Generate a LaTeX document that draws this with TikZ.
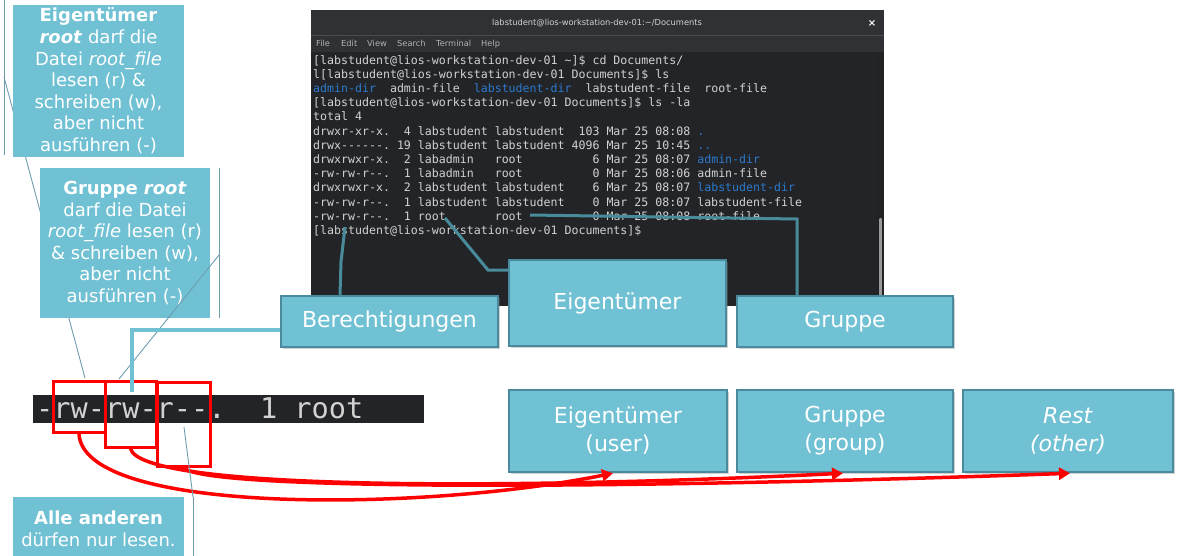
\documentclass[tikz,border=0pt]{standalone}
\usepackage{fontspec}
\setmainfont{DejaVu Sans}
\setmonofont{DejaVu Sans Mono}
\usetikzlibrary{arrows.meta,shadows}

\definecolor{boxfill}{RGB}{112,193,212}
\definecolor{boxline}{RGB}{74,138,156}
\definecolor{calloutline}{RGB}{110,158,174}
\definecolor{termbg}{RGB}{35,36,39}
\definecolor{termbar}{RGB}{47,49,52}
\definecolor{termfg}{RGB}{210,210,210}
\definecolor{termblue}{RGB}{44,122,205}
\definecolor{linkline}{RGB}{72,140,156}
\definecolor{permred}{RGB}{255,0,0}

\tikzset{
  infobox/.style={rectangle, draw=boxline, line width=2.5pt, fill=boxfill,
    text=white, align=center, inner sep=0pt,
    font=\fontsize{22}{28}\selectfont,
    drop shadow={shadow xshift=1.5pt, shadow yshift=-1.5pt, opacity=0.35}},
  calloutbox/.style={rectangle, fill=boxfill, text=white, align=center,
    inner sep=0pt, font=\fontsize{18}{21.6}\selectfont},
  termtext/.style={anchor=base west, inner sep=0pt, text=termfg,
    font=\fontsize{11.6}{14}\selectfont\ttfamily},
  menutext/.style={anchor=base west, inner sep=0pt, text=termfg!85!black,
    font=\fontsize{8.3}{10}\selectfont},
  linkpath/.style={draw=linkline, line width=3pt},
  pointerline/.style={draw=calloutline, line width=0.9pt},
  permbox/.style={rectangle, draw=permred, line width=3pt, inner sep=0pt},
  permarrow/.style={draw=permred, line width=3.5pt,
    -{Triangle[length=11pt,width=12pt]}},
}

\begin{document}
\begin{tikzpicture}[x=1pt,y=-1pt]
\clip (0,0) rectangle (1180,555);
\fill[white] (0,0) rectangle (1180,555);

% ---------------- terminal window ----------------
\fill[termbg] (311,10) rectangle (884,306);
\fill[termbar] (311,10) rectangle (884,52);
\draw[black!70, line width=0.8pt] (311,35) -- (884,35);
\fill[termbar!70!black] (877,52) rectangle (884,306);
\draw[gray!80, line width=2.5pt, line cap=round] (880.5,219) -- (880.5,306);

\node[anchor=base, inner sep=0pt, text=termfg, font=\fontsize{8.3}{10}\selectfont]
  (title) at (597,25) {labstudent@lios-workstation-dev-01:\textasciitilde/Documents};
\node[anchor=base, inner sep=0pt, text=white, font=\fontsize{10}{10}\selectfont\bfseries]
  (closebtn) at (872,26) {×};
\node[menutext] (mfile) at (316,46) {File};
\node[menutext] (medit) at (341,46) {Edit};
\node[menutext] (mview) at (367,46) {View};
\node[menutext] (msearch) at (397,46) {Search};
\node[menutext] (mterm) at (436,46) {Terminal};
\node[menutext] (mhelp) at (481,46) {Help};

\node[termtext] (t1) at (313,64.0) {[labstudent@lios-workstation-dev-01~\textasciitilde]\$~cd~Documents/};
\node[termtext] (t2) at (313,78.2) {l[labstudent@lios-workstation-dev-01~Documents]\$~ls};
\node[termtext] (t3) at (313,92.4) {{\color{termblue}admin-dir}~~admin-file~~{\color{termblue}labstudent-dir}~~labstudent-file~~root-file};
\node[termtext] (t4) at (313,106.6) {[labstudent@lios-workstation-dev-01~Documents]\$~ls~-la};
\node[termtext] (t5) at (313,120.8) {total~4};
\node[termtext] (t6) at (313,135.0) {drwxr-xr-x.~~4~labstudent~labstudent~~103~Mar~25~08:08~{\color{termblue}.}};
\node[termtext] (t7) at (313,149.2) {drwx-{}-{}-{}-{}-{}-.~19~labstudent~labstudent~4096~Mar~25~10:45~{\color{termblue}..}};
\node[termtext] (t8) at (313,163.4) {drwxrwxr-x.~~2~labadmin~~~root~~~~~~~~~~6~Mar~25~08:07~{\color{termblue}admin-dir}};
\node[termtext] (t9) at (313,177.6) {-rw-rw-r-{}-.~~1~labadmin~~~root~~~~~~~~~~0~Mar~25~08:06~admin-file};
\node[termtext] (t10) at (313,191.8) {drwxrwxr-x.~~2~labstudent~labstudent~~~~6~Mar~25~08:07~{\color{termblue}labstudent-dir}};
\node[termtext] (t11) at (313,206.0) {-rw-rw-r-{}-.~~1~labstudent~labstudent~~~~0~Mar~25~08:07~labstudent-file};
\node[termtext] (t12) at (313,220.2) {-rw-rw-r-{}-.~~1~root~~~~~~~root~~~~~~~~~~0~Mar~25~08:08~root-file};
\node[termtext] (t13) at (313,234.4) {[labstudent@lios-workstation-dev-01~Documents]\$};

% points in the listing the labels refer to
\coordinate (permcol) at (345,227);
\coordinate (ownercol) at (445,218);
\coordinate (groupcol) at (530,215);

% ---------------- labels on the terminal ----------------
\node[infobox, minimum width=217pt, minimum height=51pt] (berecht) at (389.5,321.5) {Berechtigungen};
\node[infobox, minimum width=217pt, minimum height=86pt] (eigTop) at (617.5,303) {Eigentümer};
\node[infobox, minimum width=216pt, minimum height=51pt] (grpTop) at (845,321.5) {Gruppe};

\draw[linkpath] ([xshift=-49.5pt]berecht.north) -- (341,262) -- (permcol);
\draw[linkpath] ([yshift=33pt]eigTop.west) -- (488,270) -- (ownercol);
\draw[linkpath] ([xshift=-48pt]grpTop.north) -- (797,219) -- (groupcol);

% ---------------- callouts on the left ----------------
\draw[pointerline] (4,0) -- (4,155);
\coordinate (c1tip) at (85,378);
\draw[pointerline] (4,77) -- (c1tip);
\node[calloutbox, minimum width=171pt, minimum height=152pt] (callOwner) at (98.5,81)
  {\textbf{Eigentümer}\\ \textbf{\textit{root}} darf die\\ Datei \textit{root\_file}\\ lesen (r) \&\\ schreiben (w),\\ aber nicht\\ ausführen (-)};

\node[calloutbox, minimum width=170pt, minimum height=150pt] (callGroup) at (125,243)
  {\textbf{Gruppe \textit{root}}\\ darf die Datei\\ \textit{root\_file} lesen (r)\\ \& schreiben (w),\\ aber nicht\\ ausführen (-)};
\draw[pointerline] (219,168) -- (219,318);
\coordinate (c2tip) at (119,379);
\draw[pointerline] (219,255) -- (c2tip);

% ---------------- permission string ----------------
\fill[termbg] (33,395) rectangle (424,423);
\node[anchor=base west, inner sep=0pt, text=termfg, font=\fontsize{28.6}{30}\selectfont\ttfamily]
  (permstr) at (36,418) {-rw-rw-r-{}-.~~1~root};

\node[permbox, minimum width=52pt, minimum height=51pt] (ruser) at (79,406.5) {};
\node[permbox, minimum width=51pt, minimum height=66pt] (rgroup) at (130.5,414) {};
\node[permbox, minimum width=53pt, minimum height=84pt] (rother) at (183.5,424) {};

\draw[draw=boxfill, line width=4pt] ([yshift=-8.5pt]berecht.west) -- (132,330) -- (132,392);

% ---------------- classes ----------------
\node[infobox, minimum width=218pt, minimum height=82pt] (userbox) at (618,431) {Eigentümer\\(user)};
\node[infobox, minimum width=216pt, minimum height=82pt] (groupbox) at (845,431) {Gruppe\\(group)};
\node[infobox, minimum width=210pt, minimum height=82pt] (restbox) at (1068,431) {\textit{Rest}\\\textit{(other)}};

\draw[permarrow] (ruser.south) .. controls (82,515) and (420,512) .. ([xshift=-5pt]userbox.south);
\draw[permarrow] (rgroup.south) .. controls (140,490) and (500,490) .. ([xshift=-2pt]groupbox.south);
\draw[permarrow] (rother.south) .. controls (200,490) and (600,490) .. ([xshift=2pt]restbox.south);

% ---------------- callout for the others ----------------
\node[calloutbox, minimum width=171pt, minimum height=63pt] (callOther) at (98.5,528.5)
  {\textbf{Alle anderen}\\ dürfen nur lesen.};
\draw[pointerline] (193,497) -- (193,560);
\coordinate (c3tip) at (184,427);
\draw[pointerline] (193,497) -- (c3tip);
\end{tikzpicture}
\end{document}
